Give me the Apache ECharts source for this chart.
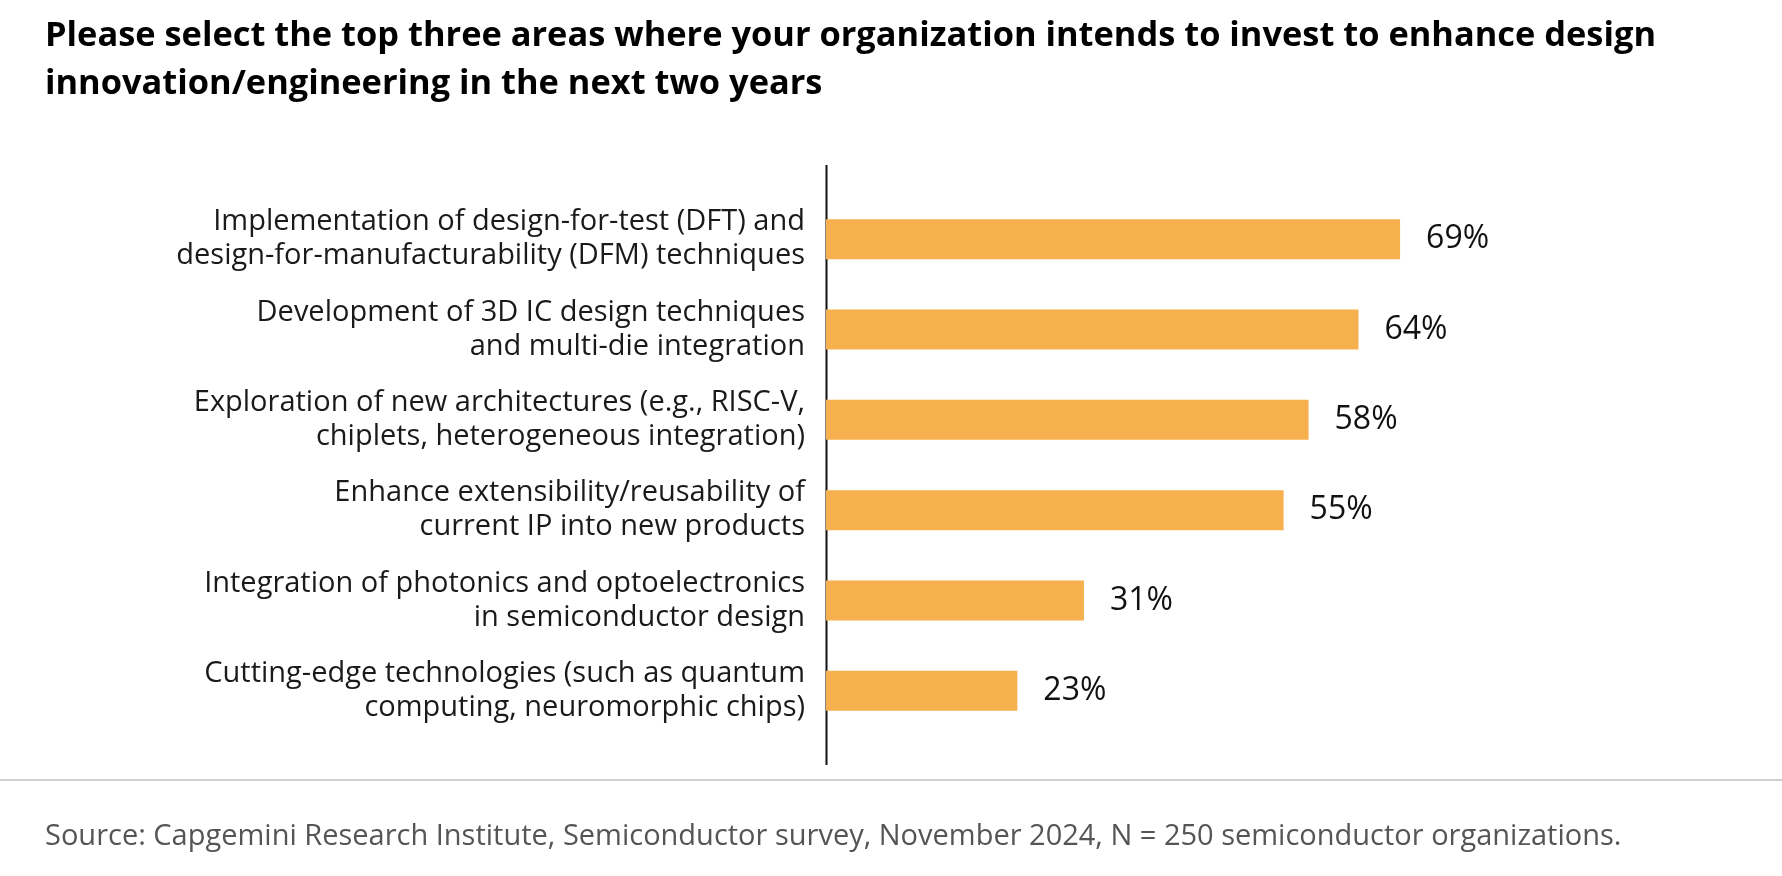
<!DOCTYPE html>
<html>
<head>
<meta charset="utf-8">
<script src="https://cdn.jsdelivr.net/npm/echarts@6/dist/echarts.min.js"></script>
<style>
html,body{margin:0;padding:0;background:#fff;}
#chart{width:1782px;height:876px;}
</style>
</head>
<body>
<div id="chart"></div>
<script>
// categories, top to bottom
var categories = [
	'Implementation of design-for-test (DFT) and\ndesign-for-manufacturability (DFM) techniques',
	'Development of 3D IC design techniques\nand multi-die integration',
	'Exploration of new architectures (e.g., RISC-V,\nchiplets, heterogeneous integration)',
	'Enhance extensibility/reusability of\ncurrent IP into new products',
	'Integration of photonics and optoelectronics\nin semiconductor design',
	'Cutting-edge technologies (such as quantum\ncomputing, neuromorphic chips)'
];
var values = [69, 64, 58, 55, 31, 23];
var titleText = 'Please select the top three areas where your organization intends to invest to enhance design\ninnovation/engineering in the next two years';
var sourceText = 'Source: Capgemini Research Institute, Semiconductor survey, November 2024, N = 250 semiconductor organizations.';

var FONT = 'Open Sans';
var myChart = echarts.init(document.getElementById('chart'));
var option = {
	backgroundColor : '#fff',
	animation : false,
	title : {
		text : titleText,
		left : 40,
		top : 7,
		textStyle : {
			fontFamily : FONT,
			fontSize : 34.4,
			fontWeight : 'bold',
			color : '#000',
			lineHeight : 48
		}
	},
	grid : {
		left : 826,
		right : 124,
		top : 194,
		bottom : 140,
		containLabel : false
	},
	xAxis : {
		type : 'value',
		min : 0,
		max : 100,
		show : false
	},
	yAxis : {
		type : 'category',
		inverse : true,
		data : categories,
		axisLine : { show : false },
		axisTick : { show : false },
		axisLabel : {
			margin : 21,
			fontFamily : FONT,
			fontSize : 29,
			color : '#1a1a1a',
			lineHeight : 34,
			align : 'right'
		}
	},
	series : [ {
		type : 'bar',
		data : values,
		barWidth : 40,
		itemStyle : { color : '#F6B14E' },
		label : {
			show : true,
			position : 'right',
			distance : 26,
			formatter : '{c}%',
			fontFamily : FONT,
			fontSize : 32,
			color : '#111'
		}
	} ],
	graphic : [
		{ // vertical axis line, taller than the bar area
			type : 'line',
			shape : { x1 : 826.5, y1 : 165, x2 : 826.5, y2 : 765 },
			style : { stroke : '#111', lineWidth : 2 }
		},
		{ // separator above the source
			type : 'line',
			shape : { x1 : 0, y1 : 780, x2 : 1782, y2 : 780 },
			style : { stroke : '#cfcfcf', lineWidth : 2 }
		},
		{
			type : 'text',
			left : 45,
			top : 822,
			style : {
				text : sourceText,
				fontFamily : FONT,
				fontSize : 29,
				fill : '#555'
			}
		}
	]
};
myChart.setOption(option);
</script>
</body>
</html>
